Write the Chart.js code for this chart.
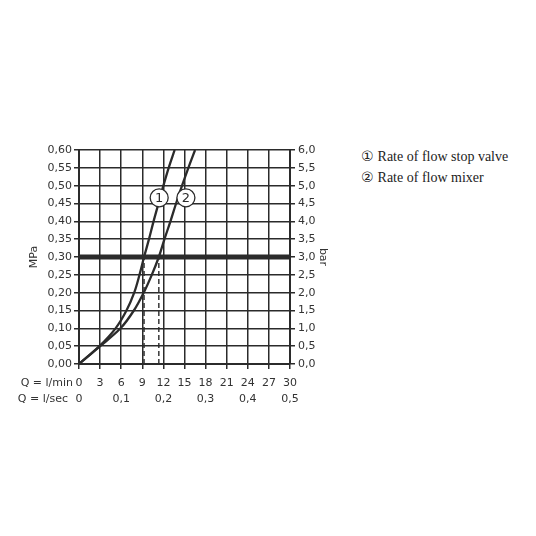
<!DOCTYPE html>
<html>
<head>
<meta charset="utf-8">
<script src="https://cdn.jsdelivr.net/npm/chart.js@4.4.1/dist/chart.umd.min.js"></script>
<style>
    body { margin: 0; background: #fff; width: 536px; height: 536px; overflow: hidden; }
    #wrap { position: absolute; left: 0; top: 0; width: 340px; height: 420px; }
    .qlabel { position: absolute; left: 0; width: 74px; text-align: right; font: 11px "DejaVu Sans", sans-serif; color: #333; line-height: 14px; white-space: nowrap; }
    .legend { position: absolute; left: 361px; font: 14px "Liberation Serif", serif; color: #222; line-height: 16px; white-space: nowrap; }
    .legend .num { font: 14px "DejaVu Sans", sans-serif; margin-right: 4px; }
</style>
</head>
<body>
<div id="wrap"><canvas id="chart" width="340" height="420"></canvas></div>
<div class="qlabel" style="top:376px; width:73px">Q = l/min</div>
<div class="qlabel" style="top:392px; width:68px">Q = l/sec</div>
<div class="legend" style="top:148px"><span class="num">&#9312;</span>Rate of flow stop valve</div>
<div class="legend" style="top:169px"><span class="num">&#9313;</span>Rate of flow mixer</div>

<script>
// Pressure loss curves (x = l/min, y = MPa)
const mpaLevels = [0, 0.05, 0.10, 0.15, 0.20, 0.25, 0.30, 0.35, 0.40, 0.45, 0.50, 0.55, 0.60];
const stopValveFlow = [0, 2.9, 5.2, 6.75, 7.85, 8.6, 9.25, 9.95, 10.6, 11.3, 12.0, 12.75, 13.6];
const mixerFlow = [0, 3.0, 5.9, 7.8, 9.2, 10.35, 11.35, 12.15, 13.0, 13.8, 14.65, 15.55, 16.5];

// reference line at 3 bar and the flows it meets
const refPressure = 0.30;
const refFlows = [9.25, 11.35];

// circled curve numbers
const markerNames = ['1', '2'];
const markerFlow = [11.4, 15.2];
const markerPressure = [0.466, 0.466];

// axis ticks
const mpaTicks = [0, 0.05, 0.10, 0.15, 0.20, 0.25, 0.30, 0.35, 0.40, 0.45, 0.50, 0.55, 0.60];
const barTicks = [0, 0.5, 1, 1.5, 2, 2.5, 3, 3.5, 4, 4.5, 5, 5.5, 6];
const lminTicks = [0, 3, 6, 9, 12, 15, 18, 21, 24, 27, 30];
const lsecTicks = [0, 0.1, 0.2, 0.3, 0.4, 0.5];

const ink = '#2b2b2b';
const tickFont = { family: 'DejaVu Sans', size: 11 };

function toPoints(xs, ys) {
    return xs.map((x, i) => ({ x: x, y: ys[i] }));
}

function comma(v, digits) {
    return v.toFixed(digits).replace('.', ',');
}

function fixedTicks(list) {
    return function (scale) {
        scale.ticks = list.map(v => ({ value: v }));
    };
}

const datasets = [
    {
        // circled numbers on top
        type: 'scatter',
        data: toPoints(markerFlow, markerPressure),
        pointRadius: 9,
        pointHoverRadius: 9,
        pointBackgroundColor: '#fff',
        pointBorderColor: ink,
        pointBorderWidth: 1.3,
        order: 0
    },
    {
        data: toPoints(stopValveFlow, mpaLevels),
        borderColor: ink,
        borderWidth: 2.3,
        tension: 0.35,
        pointRadius: 0,
        order: 1
    },
    {
        data: toPoints(mixerFlow, mpaLevels),
        borderColor: ink,
        borderWidth: 2.3,
        tension: 0.35,
        pointRadius: 0,
        order: 1
    },
    {
        data: [{ x: lminTicks[0], y: refPressure }, { x: lminTicks[lminTicks.length - 1], y: refPressure }],
        borderColor: ink,
        borderWidth: 5,
        pointRadius: 0,
        order: 2
    }
];

refFlows.forEach(f => {
    datasets.push({
        data: [{ x: f, y: 0 }, { x: f, y: refPressure }],
        borderColor: ink,
        borderWidth: 1.4,
        borderDash: [5, 3],
        pointRadius: 0,
        order: 3
    });
});

const markerText = {
    id: 'markerText',
    afterDatasetsDraw(chart) {
        const meta = chart.getDatasetMeta(0);
        const ctx = chart.ctx;
        ctx.save();
        ctx.fillStyle = ink;
        ctx.font = '13px "DejaVu Sans"';
        ctx.textAlign = 'center';
        ctx.textBaseline = 'middle';
        meta.data.forEach((pt, i) => {
            ctx.fillText(markerNames[i], pt.x, pt.y + 0.5);
        });
        ctx.restore();
    }
};

new Chart(document.getElementById('chart'), {
    type: 'line',
    data: { datasets: datasets },
    plugins: [markerText],
    options: {
        responsive: false,
        animation: false,
        devicePixelRatio: 1,
        layout: { padding: { left: 0, top: 150, right: 0, bottom: 10 } },
        plugins: { legend: { display: false }, tooltip: { enabled: false } },
        scales: {
            x: {
                type: 'linear',
                position: 'bottom',
                weight: 0,
                min: 0,
                max: 30,
                afterBuildTicks: fixedTicks(lminTicks),
                afterFit(scale) { scale.height = 26; },
                grid: { color: ink, lineWidth: 1.5, tickLength: 5 },
                border: { color: ink, width: 2 },
                ticks: { color: '#333', font: tickFont, padding: 8, maxRotation: 0, autoSkip: false }
            },
            x2: {
                type: 'linear',
                position: 'bottom',
                weight: 1,
                min: 0,
                max: 0.5,
                afterBuildTicks: fixedTicks(lsecTicks),
                afterFit(scale) { scale.height = 20; },
                grid: { display: false, drawTicks: false },
                border: { display: false },
                ticks: {
                    color: '#333', font: tickFont, padding: 3, maxRotation: 0, autoSkip: false,
                    callback: v => v === 0 ? '0' : comma(v, 1)
                }
            },
            y: {
                type: 'linear',
                position: 'left',
                min: 0,
                max: 0.6,
                afterBuildTicks: fixedTicks(mpaTicks),
                afterFit(scale) { scale.width = 79; },
                grid: { color: ink, lineWidth: 1.5, tickLength: 5 },
                border: { color: ink, width: 2 },
                title: { display: true, text: 'MPa', color: '#333', font: tickFont, padding: { top: 28, bottom: 0 } },
                ticks: { color: '#333', font: tickFont, padding: 2, autoSkip: false, callback: v => comma(v, 2) }
            },
            y2: {
                type: 'linear',
                position: 'right',
                min: 0,
                max: 6,
                afterBuildTicks: fixedTicks(barTicks),
                afterFit(scale) { scale.width = 50; },
                grid: { drawOnChartArea: false, color: ink, lineWidth: 1.5, tickLength: 5 },
                border: { color: ink, width: 2 },
                title: { display: true, text: 'bar', color: '#333', font: tickFont, padding: { top: 11, bottom: 0 } },
                ticks: { color: '#333', font: tickFont, padding: 3, autoSkip: false, callback: v => comma(v, 1) }
            }
        }
    }
});
</script>
</body>
</html>
